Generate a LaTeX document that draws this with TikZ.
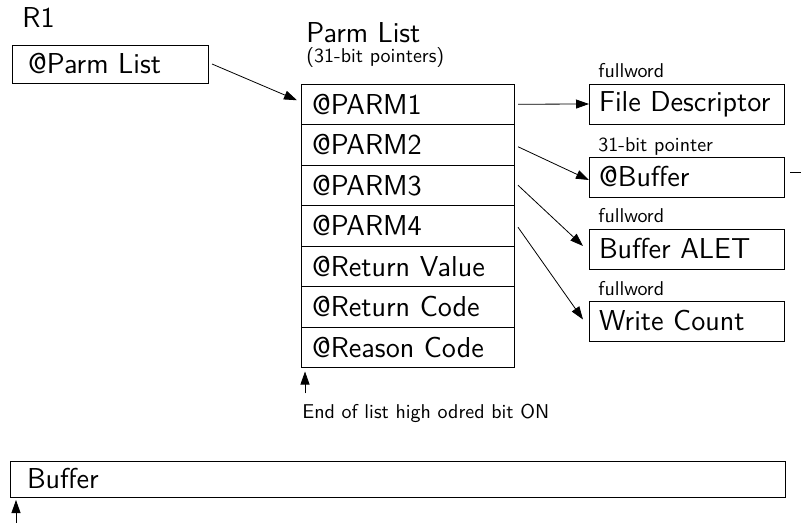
\documentclass[tikz,border=0pt]{standalone}
\usetikzlibrary{positioning,arrows.meta}
\begin{document}
\begin{tikzpicture}[x=0.5pt,y=-0.5pt,font=\sffamily,>={Triangle[length=6.5pt,width=4.5pt]}]
% STYLES
\tikzset{%
    cell/.style={%
        rectangle,draw,outer sep=0pt,inner xsep=5.5pt,
        minimum width=106.5pt,minimum height=20.25pt,
        text width=95.5pt,align=left,font=\sffamily\Large
    },
    field/.style={%
        rectangle,draw,outer sep=0pt,inner xsep=5pt,
        minimum width=97.5pt,minimum height=20pt,
        text width=87.5pt,align=left,font=\sffamily\Large
    },
    tag/.style={inner sep=0pt,font=\sffamily\normalsize},
    ptr/.style={->,thin}
}
\useasboundingbox (0,0) rectangle (801,523);
% Register R1
\node[anchor=base west,inner sep=0pt,font=\sffamily\Large] (r1) at (22,28) {R1};
\node[rectangle,draw,anchor=north west,outer sep=0pt,minimum width=98pt,minimum height=19pt,
    text width=82pt,inner xsep=8pt,align=left,font=\sffamily\Large] (plist) at (12,45) {@Parm List};
% Parm list
\node[anchor=base west,inner sep=0pt,font=\sffamily\Large] (title) at (306,43) {Parm List};
\node[tag,anchor=base west] (sub) at (306,63) {(31-bit pointers)};
\node[cell,anchor=north west] (p1) at (301,84) {@PARM1};
\node[cell,below=0pt of p1] (p2) {@PARM2};
\node[cell,below=0pt of p2] (p3) {@PARM3};
\node[cell,below=0pt of p3] (p4) {@PARM4};
\node[cell,below=0pt of p4] (p5) {@Return Value};
\node[cell,below=0pt of p5] (p6) {@Return Code};
\node[cell,below=0pt of p6] (p7) {@Reason Code};
\node[anchor=base west,inner sep=0pt,font=\sffamily\normalsize] (eol) at (302,418) {End of list high odred bit ON};
% Parameters
\node[field,anchor=north west] (fd) at (589,84) {File Descriptor};
\node[field,anchor=north west] (buf) at (589,157) {@Buffer};
\node[field,anchor=north west] (alet) at (589,229) {Buffer ALET};
\node[field,anchor=north west] (cnt) at (589,301) {Write Count};
\node[tag,above right=3pt and 4.5pt of fd.north west,anchor=base west] (fdtag) {fullword};
\node[tag,above right=2.5pt and 4.5pt of buf.north west,anchor=base west] (buftag) {31-bit pointer};
\node[tag,above right=3pt and 4.5pt of alet.north west,anchor=base west] (alettag) {fullword};
\node[tag,above right=3pt and 4.5pt of cnt.north west,anchor=base west] (cnttag) {fullword};
% Buffer
\node[rectangle,draw,anchor=north west,outer sep=0pt,minimum width=387.5pt,minimum height=18pt,
    text width=370.5pt,inner xsep=8.5pt,align=left,font=\sffamily\Large] (data) at (10,461) {Buffer};
\coordinate (datap) at (16,523);
\coordinate (off) at (801,172);
% Pointers
\draw[ptr] ([xshift=2pt]plist.east) -- ([xshift=-2pt,yshift=2pt]p1.west);
\draw[ptr] ([xshift=2pt]p1.east) -- (fd.west);
\draw[ptr] ([xshift=2pt,yshift=-1pt]p2.east) -- ([yshift=-1.5pt]buf.west);
\draw[ptr] ([xshift=2pt]p3.east) -- ([xshift=-3pt,yshift=1.5pt]alet.west);
\draw[ptr] ([xshift=2pt,yshift=-0.75pt]p4.east) -- ([xshift=-3pt,yshift=0.75pt]cnt.west);
\draw ([xshift=3pt,yshift=2.5pt]buf.east) -- (off);
\draw[ptr] ([xshift=1.5pt,yshift=5pt]eol.north west) -- ([xshift=2pt,yshift=-2pt]p7.south west);
\draw[ptr] (datap) -- ([xshift=3pt,yshift=-1.5pt]data.south west);
\end{tikzpicture}
\end{document}
